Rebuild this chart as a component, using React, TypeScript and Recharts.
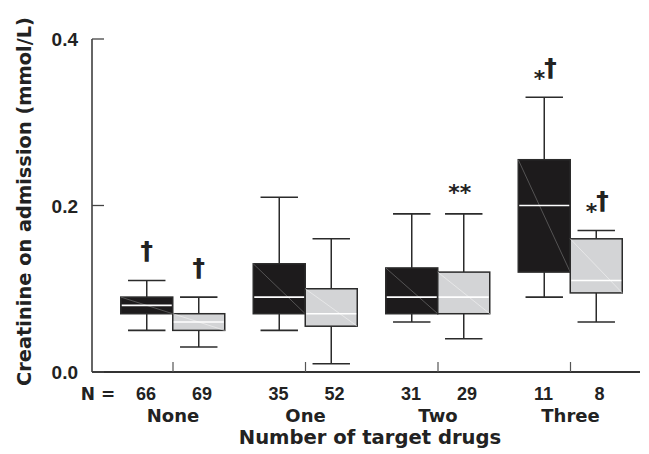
import { ComposedChart, Bar, XAxis, YAxis, Label } from 'recharts'

const groups = ['None', 'One', 'Two', 'Three']
const nBlack = [66, 35, 31, 11]
const nLight = [69, 52, 29, 8]

// box stats per group: whisker low, Q1, median, Q3, whisker high
const blackMin = [0.05, 0.05, 0.06, 0.09]
const blackQ1 = [0.07, 0.07, 0.07, 0.12]
const blackMed = [0.08, 0.09, 0.09, 0.2]
const blackQ3 = [0.09, 0.13, 0.125, 0.255]
const blackMax = [0.11, 0.21, 0.19, 0.33]

const lightMin = [0.03, 0.01, 0.04, 0.06]
const lightQ1 = [0.05, 0.055, 0.07, 0.095]
const lightMed = [0.06, 0.07, 0.09, 0.11]
const lightQ3 = [0.07, 0.1, 0.12, 0.16]
const lightMax = [0.09, 0.16, 0.19, 0.17]

const blackMark = ['†', '', '', '*†']
const lightMark = ['†', '', '**', '*†']

const yTicks = [0, 0.2, 0.4]

const data = groups.map((g, i) => ({
  group: g,
  black: [blackMin[i], blackQ1[i], blackMed[i], blackQ3[i], blackMax[i]],
  light: [lightMin[i], lightQ1[i], lightMed[i], lightQ3[i], lightMax[i]],
  blackMark: blackMark[i],
  lightMark: lightMark[i],
}))

const WORD_FONT = '"DejaVu Sans", sans-serif'
const NUM_FONT = '"Liberation Sans", Arial, sans-serif'
const INK = '#222'

function Mark({ x, top, text }: { x: number; top: number; text: string }) {
  if (!text) return null
  if (text === '**') {
    return (
      <text x={x - 4} y={top - 14} textAnchor="middle" fontFamily={WORD_FONT} fontWeight="bold" fontSize={22} fill={INK}>
        **
      </text>
    )
  }
  if (text === '*†') {
    return (
      <text x={x + 1} y={top - 21} textAnchor="middle" fontFamily={WORD_FONT} fontWeight="bold" fontSize={25} fill={INK}>
        <tspan fontSize={22} dy={10}>*</tspan>
        <tspan dy={-10} dx={-1}>†</tspan>
      </text>
    )
  }
  return (
    <text x={x} y={top - 21} textAnchor="middle" fontFamily={WORD_FONT} fontWeight="bold" fontSize={25} fill={INK}>
      {text}
    </text>
  )
}

function makeBox(key: 'black' | 'light', fill: string, diag: string, markKey: 'blackMark' | 'lightMark') {
  return (props: any) => {
    const { x, y, width, height, payload } = props
    const s: number[] = payload[key]
    const top = Math.min(y, y + height)
    const h = Math.abs(height)
    const bottom = top + h
    const py = (v: number) => bottom - ((v - s[0]) / (s[4] - s[0])) * h
    const cx = x + width / 2
    const cap = width * 0.36
    const q1 = py(s[1])
    const q3 = py(s[3])
    const med = py(s[2])
    return (
      <g>
        <line x1={cx} x2={cx} y1={top} y2={q3} stroke="#2b2b2b" strokeWidth={1.5} />
        <line x1={cx} x2={cx} y1={q1} y2={bottom} stroke="#2b2b2b" strokeWidth={1.5} />
        <line x1={cx - cap} x2={cx + cap} y1={top} y2={top} stroke="#2b2b2b" strokeWidth={1.6} />
        <line x1={cx - cap} x2={cx + cap} y1={bottom} y2={bottom} stroke="#2b2b2b" strokeWidth={1.6} />
        <rect x={x} y={q3} width={width} height={q1 - q3} fill={fill} stroke="#2b2b2b" strokeWidth={1.5} />
        <line x1={x} y1={q3} x2={x + width} y2={q1} stroke={diag} strokeWidth={0.6} />
        <line x1={x + 1} x2={x + width - 1} y1={med} y2={med} stroke="#fff" strokeWidth={1.6} />
        <Mark x={cx} top={top} text={payload[markKey]} />
      </g>
    )
  }
}

const YTick = ({ x, y, payload }: any) => (
  <g>
    <line x1={x} x2={x + 12} y1={y} y2={y} stroke="#444" strokeWidth={1.3} />
    <text x={x - 14} y={y + 7} textAnchor="end" fontFamily={NUM_FONT} fontWeight="bold" fontSize={19} fill={INK}>
      {Number(payload.value).toFixed(1)}
    </text>
  </g>
)

const XTick = ({ x, y, payload, index }: any) => {
  const i = payload.index ?? index
  return (
    <g>
      <line x1={x} x2={x} y1={y - 10} y2={y} stroke="#555" strokeWidth={1.2} />
      {i === 0 && (
        <text x={x - 75} y={y + 28} textAnchor="middle" fontFamily={WORD_FONT} fontWeight="bold" fontSize={17} fill={INK}>
          N =
        </text>
      )}
      <text x={x - 27} y={y + 28} textAnchor="middle" fontFamily={NUM_FONT} fontWeight="bold" fontSize={18} fill={INK}>
        {nBlack[i]}
      </text>
      <text x={x + 29} y={y + 28} textAnchor="middle" fontFamily={NUM_FONT} fontWeight="bold" fontSize={18} fill={INK}>
        {nLight[i]}
      </text>
      <text x={x} y={y + 50} textAnchor="middle" fontFamily={WORD_FONT} fontWeight="bold" fontSize={18} fill={INK}>
        {payload.value}
      </text>
    </g>
  )
}

export default function App() {
  return (
    <div style={{ position: 'absolute', left: 0, top: 0, background: '#fff' }}>
      <ComposedChart width={649} height={454} data={data} margin={{ top: 39, right: 9, bottom: 22, left: 32 }} barGap={0}>
        <XAxis
          dataKey="group"
          type="category"
          interval={0}
          padding={{ left: 14.75, right: 3.25 }}
          height={60}
          tickSize={0}
          tickMargin={0}
          tickLine={false}
          axisLine={{ stroke: '#333', strokeWidth: 2 }}
          tick={<XTick />}
        >
          <Label
            content={({ viewBox }: any) => (
              <text
                x={viewBox.x + viewBox.width / 2 + 4}
                y={viewBox.y + 72}
                textAnchor="middle"
                fontFamily={WORD_FONT}
                fontWeight="bold"
                fontSize={19.6}
                fill={INK}
              >
                Number of target drugs
              </text>
            )}
          />
        </XAxis>
        <YAxis
          type="number"
          domain={[0, 0.4]}
          ticks={yTicks}
          width={60}
          tickSize={0}
          tickMargin={0}
          tickLine={false}
          axisLine={{ stroke: '#333', strokeWidth: 1.5 }}
          tick={<YTick />}
        >
          <Label
            content={({ viewBox }: any) => {
              const cx = viewBox.x - 1
              const cy = viewBox.y + viewBox.height / 2 - 4
              return (
                <text
                  x={cx}
                  y={cy}
                  transform={`rotate(-90 ${cx} ${cy})`}
                  textAnchor="middle"
                  fontFamily={WORD_FONT}
                  fontWeight="bold"
                  fontSize={19.4}
                  fill={INK}
                >
                  Creatinine on admission (mmol/L)
                </text>
              )
            }}
          />
        </YAxis>
        <Bar
          dataKey={(d: any) => [d.black[0], d.black[4]]}
          barSize={52}
          shape={makeBox('black', '#1d1b1c', '#7a7a7a', 'blackMark')}
          isAnimationActive={false}
        />
        <Bar
          dataKey={(d: any) => [d.light[0], d.light[4]]}
          barSize={52}
          shape={makeBox('light', '#d3d4d6', '#f4f4f4', 'lightMark')}
          isAnimationActive={false}
        />
      </ComposedChart>
    </div>
  )
}
